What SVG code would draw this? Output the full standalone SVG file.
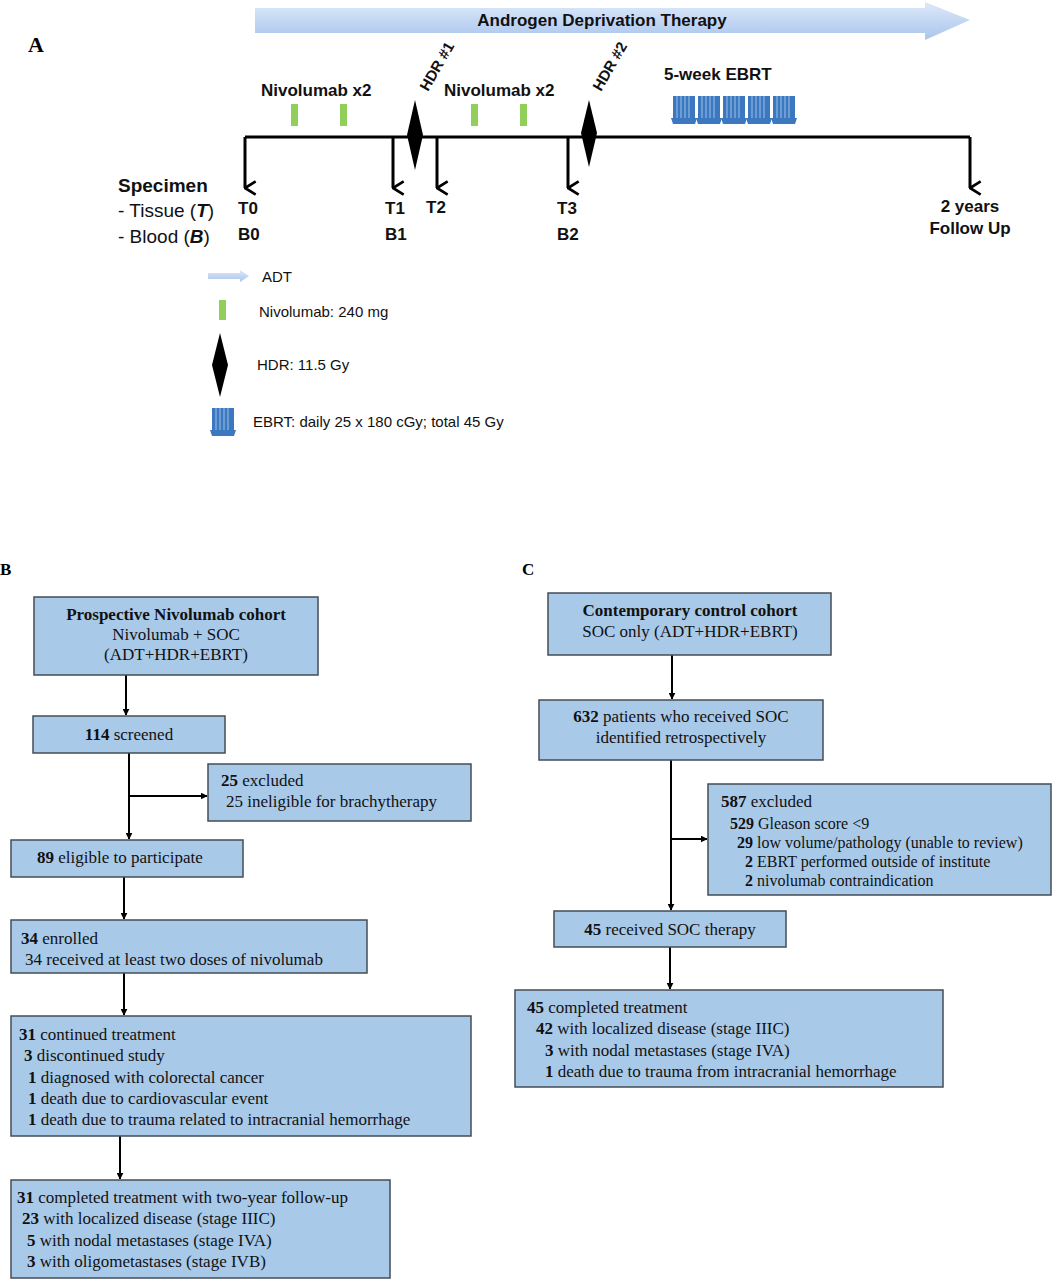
<svg xmlns="http://www.w3.org/2000/svg" width="1052" height="1280" viewBox="0 0 1052 1280">
<style>
.s{font-family:"Liberation Sans",Arial,sans-serif;fill:#111}
.b{font-weight:bold}
.t{font-family:"Liberation Serif","Times New Roman",serif;font-size:17px;fill:#111}
.box{fill:#a9c9e9;stroke:#444c55;stroke-width:1.5}
.ln{stroke:#000;stroke-width:2;fill:none}
.tl{stroke:#000;stroke-width:3;fill:none}
.nv{fill:#8fcf5a}
</style>
<defs>
<linearGradient id="adt" x1="0" y1="0" x2="0" y2="1">
<stop offset="0" stop-color="#dde9fa"/><stop offset="1" stop-color="#a9c5ec"/>
</linearGradient>
<marker id="ah" viewBox="0 0 10 10" refX="9" refY="5" markerWidth="7" markerHeight="7" orient="auto" markerUnits="userSpaceOnUse">
<path d="M0,0 L10,5 L0,10 z" fill="#000"/></marker>
<marker id="ta" viewBox="0 0 12 12" refX="6" refY="11" markerWidth="16" markerHeight="16" orient="auto-start-reverse" markerUnits="userSpaceOnUse">
<path d="M1,3 L6,11 L11,3" fill="none" stroke="#000" stroke-width="2"/></marker>
<g id="eb">
<rect x="0" y="0" width="22" height="22" fill="#3b78c0"/>
<path d="M-2,22 L24,22 L22,28 L0,28 z" fill="#3b78c0"/>
<path d="M4,0 V22 M8,0 V22 M12,0 V22 M16,0 V22" stroke="#9cc0e6" stroke-width="1"/>
</g>
</defs>
<text x="28" y="52" font-family="Liberation Serif,serif" font-weight="bold" font-size="22">A</text>
<g id="adt-bar">
<path d="M255,8 H925 V2 L970,20 L925,40 V33 H255 z" fill="url(#adt)"/>
<text x="602" y="26" class="s b" font-size="17" text-anchor="middle">Androgen Deprivation Therapy</text>
</g>
<g id="timeline">
<line x1="245" y1="137" x2="970" y2="137" class="tl"/>
<rect x="291" y="104" width="7" height="22" class="nv"/>
<rect x="340" y="104" width="7" height="22" class="nv"/>
<rect x="471" y="104" width="7" height="22" class="nv"/>
<rect x="520" y="104" width="7" height="22" class="nv"/>
<path d="M415,100 L423,135 L415,170 L407,135 z"/>
<path d="M589,100 L597,133 L589,167 L581,133 z"/>
<use href="#eb" x="673" y="96"/><use href="#eb" x="698" y="96"/><use href="#eb" x="723" y="96"/><use href="#eb" x="748" y="96"/><use href="#eb" x="773" y="96"/>
<text x="261" y="96" class="s b" font-size="17">Nivolumab x2</text>
<text x="444" y="96" class="s b" font-size="17">Nivolumab x2</text>
<text x="664" y="80" class="s b" font-size="17">5-week EBRT</text>
<text transform="translate(428,92) rotate(-60)" class="s b" font-size="15">HDR #1</text>
<text transform="translate(601,92) rotate(-60)" class="s b" font-size="15">HDR #2</text>
</g>
<g id="specimens">
<line x1="245" y1="137" x2="245" y2="188" class="tl" marker-end="url(#ta)"/>
<line x1="393" y1="137" x2="393" y2="188" class="tl" marker-end="url(#ta)"/>
<line x1="437" y1="137" x2="437" y2="188" class="tl" marker-end="url(#ta)"/>
<line x1="568" y1="137" x2="568" y2="188" class="tl" marker-end="url(#ta)"/>
<line x1="970" y1="137" x2="970" y2="188" class="tl" marker-end="url(#ta)"/>
<text x="118" y="192" class="s b" font-size="19">Specimen</text>
<text x="118" y="217" class="s" font-size="19">- Tissue (<tspan font-weight="bold" font-style="italic">T</tspan>)</text>
<text x="118" y="243" class="s" font-size="19">- Blood  (<tspan font-weight="bold" font-style="italic">B</tspan>)</text>
<g class="s b" font-size="17">
<text x="238" y="214">T0</text><text x="238" y="240">B0</text>
<text x="385" y="214">T1</text><text x="385" y="240">B1</text>
<text x="426" y="213">T2</text>
<text x="557" y="214">T3</text><text x="557" y="240">B2</text>
<text x="970" y="212" text-anchor="middle">2 years</text>
<text x="970" y="234" text-anchor="middle">Follow Up</text>
</g>
</g>
<g id="legend">
<path d="M208,273 H240 V270 L249,276 L240,282 V279 H208 z" fill="url(#adt)"/>
<text x="262" y="282" class="s" font-size="15">ADT</text>
<rect x="219" y="300" width="7" height="20" class="nv"/>
<text x="259" y="317" class="s" font-size="15">Nivolumab: 240 mg</text>
<path d="M220,333 L228,365 L220,397 L212,365 z"/>
<text x="257" y="370" class="s" font-size="15">HDR: 11.5 Gy</text>
<use href="#eb" x="212" y="408"/>
<text x="253" y="427" class="s" font-size="15">EBRT: daily 25 x 180 cGy; total 45 Gy</text>
</g>
<text x="0" y="575" font-family="Liberation Serif,serif" font-weight="bold" font-size="17">B</text>
<text x="522" y="575" font-family="Liberation Serif,serif" font-weight="bold" font-size="17">C</text>
<g id="connectors">
<line x1="126" y1="675" x2="126" y2="715" class="ln" marker-end="url(#ah)"/>
<line x1="129" y1="753" x2="129" y2="839" class="ln" marker-end="url(#ah)"/>
<line x1="129" y1="796" x2="207" y2="796" class="ln" marker-end="url(#ah)"/>
<line x1="124" y1="877" x2="124" y2="919" class="ln" marker-end="url(#ah)"/>
<line x1="124" y1="973" x2="124" y2="1015" class="ln" marker-end="url(#ah)"/>
<line x1="120" y1="1136" x2="120" y2="1179" class="ln" marker-end="url(#ah)"/>
<line x1="672" y1="655" x2="672" y2="699" class="ln" marker-end="url(#ah)"/>
<line x1="671" y1="760" x2="671" y2="910" class="ln" marker-end="url(#ah)"/>
<line x1="671" y1="839" x2="707" y2="839" class="ln" marker-end="url(#ah)"/>
<line x1="670" y1="947" x2="670" y2="989" class="ln" marker-end="url(#ah)"/>
</g>
<g id="b1"><rect x="34" y="597" width="284" height="78" class="box"/>
<text class="t" text-anchor="middle"><tspan x="176" y="620" font-weight="bold">Prospective Nivolumab cohort</tspan><tspan x="176" y="640">Nivolumab + SOC</tspan><tspan x="176" y="660">(ADT+HDR+EBRT)</tspan></text></g>
<g id="b2"><rect x="33" y="716" width="192" height="37" class="box"/>
<text x="129" y="740" class="t" text-anchor="middle"><tspan font-weight="bold">114</tspan> screened</text></g>
<g id="b3"><rect x="208" y="764" width="263" height="57" class="box"/>
<text class="t"><tspan x="221" y="786"><tspan font-weight="bold">25</tspan> excluded</tspan><tspan x="226" y="807">25 ineligible for brachytherapy</tspan></text></g>
<g id="b4"><rect x="11" y="840" width="232" height="37" class="box"/>
<text x="37" y="863" class="t"><tspan font-weight="bold">89</tspan> eligible to participate</text></g>
<g id="b5"><rect x="11" y="920" width="356" height="53" class="box"/>
<text class="t"><tspan x="21" y="944"><tspan font-weight="bold">34</tspan> enrolled</tspan><tspan x="25" y="965">34 received at least two doses of nivolumab</tspan></text></g>
<g id="b6"><rect x="11" y="1016" width="460" height="120" class="box"/>
<text class="t"><tspan x="19" y="1040"><tspan font-weight="bold">31</tspan> continued treatment</tspan><tspan x="24" y="1061"><tspan font-weight="bold">3</tspan> discontinued study</tspan><tspan x="28" y="1083"><tspan font-weight="bold">1</tspan> diagnosed with colorectal cancer</tspan><tspan x="28" y="1104"><tspan font-weight="bold">1</tspan> death due to cardiovascular event</tspan><tspan x="28" y="1125"><tspan font-weight="bold">1</tspan> death due to trauma related to intracranial hemorrhage</tspan></text></g>
<g id="b7"><rect x="11" y="1180" width="379" height="98" class="box"/>
<text class="t"><tspan x="17" y="1203"><tspan font-weight="bold">31</tspan> completed treatment with two-year follow-up</tspan><tspan x="22" y="1224"><tspan font-weight="bold">23</tspan> with localized disease (stage IIIC)</tspan><tspan x="27" y="1246"><tspan font-weight="bold">5</tspan> with nodal metastases (stage IVA)</tspan><tspan x="27" y="1267"><tspan font-weight="bold">3</tspan> with oligometastases (stage IVB)</tspan></text></g>
<g id="c1"><rect x="548" y="593" width="283" height="62" class="box"/>
<text class="t" text-anchor="middle"><tspan x="690" y="616" font-weight="bold">Contemporary control cohort</tspan><tspan x="690" y="637">SOC only (ADT+HDR+EBRT)</tspan></text></g>
<g id="c2"><rect x="539" y="700" width="284" height="60" class="box"/>
<text class="t" text-anchor="middle"><tspan x="681" y="722"><tspan font-weight="bold">632</tspan> patients who received SOC</tspan><tspan x="681" y="743">identified retrospectively</tspan></text></g>
<g id="c3"><rect x="708" y="784" width="343" height="111" class="box"/>
<text class="t"><tspan x="721" y="807"><tspan font-weight="bold">587</tspan> excluded</tspan><tspan x="730" y="829" font-size="16"><tspan font-weight="bold">529</tspan> Gleason score &lt;9</tspan><tspan x="737" y="848" font-size="16"><tspan font-weight="bold">29</tspan> low volume/pathology (unable to review)</tspan><tspan x="745" y="867" font-size="16"><tspan font-weight="bold">2</tspan> EBRT performed outside of institute</tspan><tspan x="745" y="886" font-size="16"><tspan font-weight="bold">2</tspan> nivolumab contraindication</tspan></text></g>
<g id="c4"><rect x="554" y="911" width="232" height="36" class="box"/>
<text x="670" y="935" class="t" text-anchor="middle"><tspan font-weight="bold">45</tspan> received SOC therapy</text></g>
<g id="c5"><rect x="515" y="990" width="428" height="97" class="box"/>
<text class="t"><tspan x="527" y="1013"><tspan font-weight="bold">45</tspan> completed treatment</tspan><tspan x="536" y="1034"><tspan font-weight="bold">42</tspan> with localized disease (stage IIIC)</tspan><tspan x="545" y="1056"><tspan font-weight="bold">3</tspan> with nodal metastases (stage IVA)</tspan><tspan x="545" y="1077"><tspan font-weight="bold">1</tspan> death due to trauma from intracranial hemorrhage</tspan></text></g>
</svg>
